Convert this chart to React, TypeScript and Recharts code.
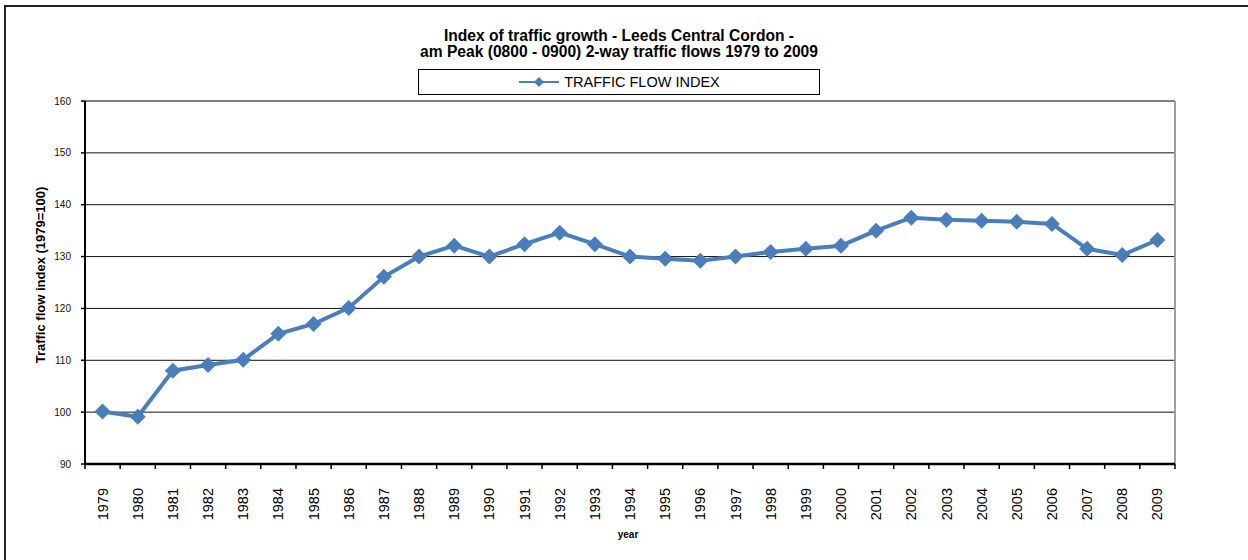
import {
  LineChart,
  Line,
  XAxis,
  YAxis,
  CartesianGrid,
  ReferenceLine,
  Legend,
} from "recharts";

const years = [
  1979, 1980, 1981, 1982, 1983, 1984, 1985, 1986, 1987, 1988, 1989, 1990, 1991,
  1992, 1993, 1994, 1995, 1996, 1997, 1998, 1999, 2000, 2001, 2002, 2003, 2004,
  2005, 2006, 2007, 2008, 2009,
];

const flowIndex = [
  100.1, 99.1, 108, 109.1, 110.1, 115.1, 117, 120.1, 126.1, 130, 132.1, 130,
  132.4, 134.6, 132.4, 130, 129.6, 129.2, 130, 130.9, 131.5, 132.1, 135, 137.5,
  137.1, 136.9, 136.7, 136.3, 131.5, 130.3, 133.2,
];

const yTicks = [90, 100, 110, 120, 130, 140, 150, 160];
const bandEdges = [...years.map((y) => y - 0.5), years[years.length - 1] + 0.5];

const seriesName = "TRAFFIC FLOW INDEX";
const BLUE = "#4a7ebb";
const FONT = "'Liberation Sans', Arial, sans-serif";

const data = years.map((year, i) => ({ year, value: flowIndex[i] }));

function Diamond(props: any) {
  const { cx, cy, index } = props;
  if (cx == null || cy == null) return <g key={index} />;
  const r = 8;
  return (
    <path
      key={index}
      d={`M${cx},${cy - r} L${cx + r},${cy} L${cx},${cy + r} L${cx - r},${cy} Z`}
      fill={BLUE}
    />
  );
}

// rotated year label, pushed down below the boundary tick marks
function YearTick(props: any) {
  const { x, payload } = props;
  const y = props.y + 13;
  return (
    <text
      x={x}
      y={y}
      transform={`rotate(-90, ${x}, ${y})`}
      textAnchor="end"
      dy="0.35em"
      fontSize={14.5}
      fontFamily={FONT}
      fill="#000"
    >
      {payload.value}
    </text>
  );
}

function LegendBox() {
  return (
    <div
      style={{
        width: 400,
        height: 24,
        border: "1px solid #000",
        background: "#fff",
        display: "flex",
        alignItems: "center",
        justifyContent: "center",
        fontFamily: FONT,
        fontSize: 14.5,
        color: "#000",
      }}
    >
      <svg width={42} height={14} style={{ marginRight: 4 }}>
        <line x1={1} y1={7} x2={41} y2={7} stroke={BLUE} strokeWidth={2} />
        <path d="M21,2 L26,7 L21,12 L16,7 Z" fill={BLUE} />
      </svg>
      <span>{seriesName}</span>
    </div>
  );
}

export default function App() {
  return (
    <div
      style={{
        position: "absolute",
        left: 0,
        top: 0,
        width: 1248,
        height: 560,
        background: "#fff",
        overflow: "hidden",
      }}
    >
      <div
        style={{
          position: "absolute",
          left: 4,
          top: 5,
          width: 1248,
          height: 560,
          borderTop: "2px solid #222",
          borderLeft: "2px solid #222",
        }}
      />
      <div
        style={{
          position: "absolute",
          left: 319,
          top: 28,
          width: 600,
          textAlign: "center",
          fontFamily: FONT,
          fontWeight: "bold",
          fontSize: 15.6,
          lineHeight: "16px",
          color: "#000",
        }}
      >
        Index of traffic growth - Leeds Central Cordon -
        <br />
        am Peak (0800 - 0900) 2-way traffic flows 1979 to 2009
      </div>
      <div
        style={{
          position: "absolute",
          left: 40,
          top: 275,
          transform: "translate(-50%, -50%) rotate(-90deg)",
          whiteSpace: "nowrap",
          fontFamily: FONT,
          fontWeight: "bold",
          fontSize: 13,
          color: "#000",
        }}
      >
        Traffic flow index (1979=100)
      </div>
      <div
        style={{
          position: "absolute",
          left: 628,
          top: 534,
          transform: "translate(-50%, -50%)",
          fontFamily: FONT,
          fontWeight: "bold",
          fontSize: 10,
          color: "#000",
        }}
      >
        year
      </div>
      <div style={{ position: "absolute", left: 0, top: 0 }}>
        <LineChart
          width={1248}
          height={560}
          data={data}
          margin={{ top: 101, right: 73, bottom: 31, left: 40 }}
        >
          <CartesianGrid vertical={false} stroke="#111" strokeOpacity={1} />
          <XAxis
            xAxisId="edges"
            type="number"
            dataKey="year"
            domain={[bandEdges[0], bandEdges[bandEdges.length - 1]]}
            ticks={bandEdges}
            tick={() => <g />}
            tickLine={{ stroke: "#000", strokeWidth: 1.5 }}
            tickSize={5}
            axisLine={{ stroke: "#000", strokeWidth: 2.5 }}
            height={5}
            interval={0}
            allowDecimals
          />
          <XAxis
            xAxisId="labels"
            type="number"
            dataKey="year"
            domain={[bandEdges[0], bandEdges[bandEdges.length - 1]]}
            ticks={years}
            tick={YearTick}
            tickLine={false}
            axisLine={false}
            tickMargin={0}
            height={60}
            interval={0}
          />
          <YAxis
            domain={[90, 160]}
            ticks={yTicks}
            interval={0}
            width={45}
            tickSize={4}
            tickMargin={10}
            tick={{ fontSize: 10, fontFamily: FONT, fill: "#111" }}
            tickLine={{ stroke: "#000", strokeWidth: 1.5 }}
            axisLine={{ stroke: "#000", strokeWidth: 2 }}
          />
          <ReferenceLine y={160} xAxisId="edges" stroke="#7f7f7f" strokeWidth={2} />
          <ReferenceLine
            x={bandEdges[bandEdges.length - 1]}
            xAxisId="edges"
            stroke="#9f9f9f"
            strokeWidth={2}
          />
          <Legend
            layout="horizontal"
            verticalAlign="middle"
            align="center"
            content={() => <LegendBox />}
            wrapperStyle={{ position: "absolute", left: 418, top: 69, width: 402 }}
          />
          <Line
            xAxisId="edges"
            type="linear"
            dataKey="value"
            name={seriesName}
            stroke={BLUE}
            strokeWidth={4}
            dot={Diamond}
            activeDot={false}
            isAnimationActive={false}
          />
        </LineChart>
      </div>
    </div>
  );
}
